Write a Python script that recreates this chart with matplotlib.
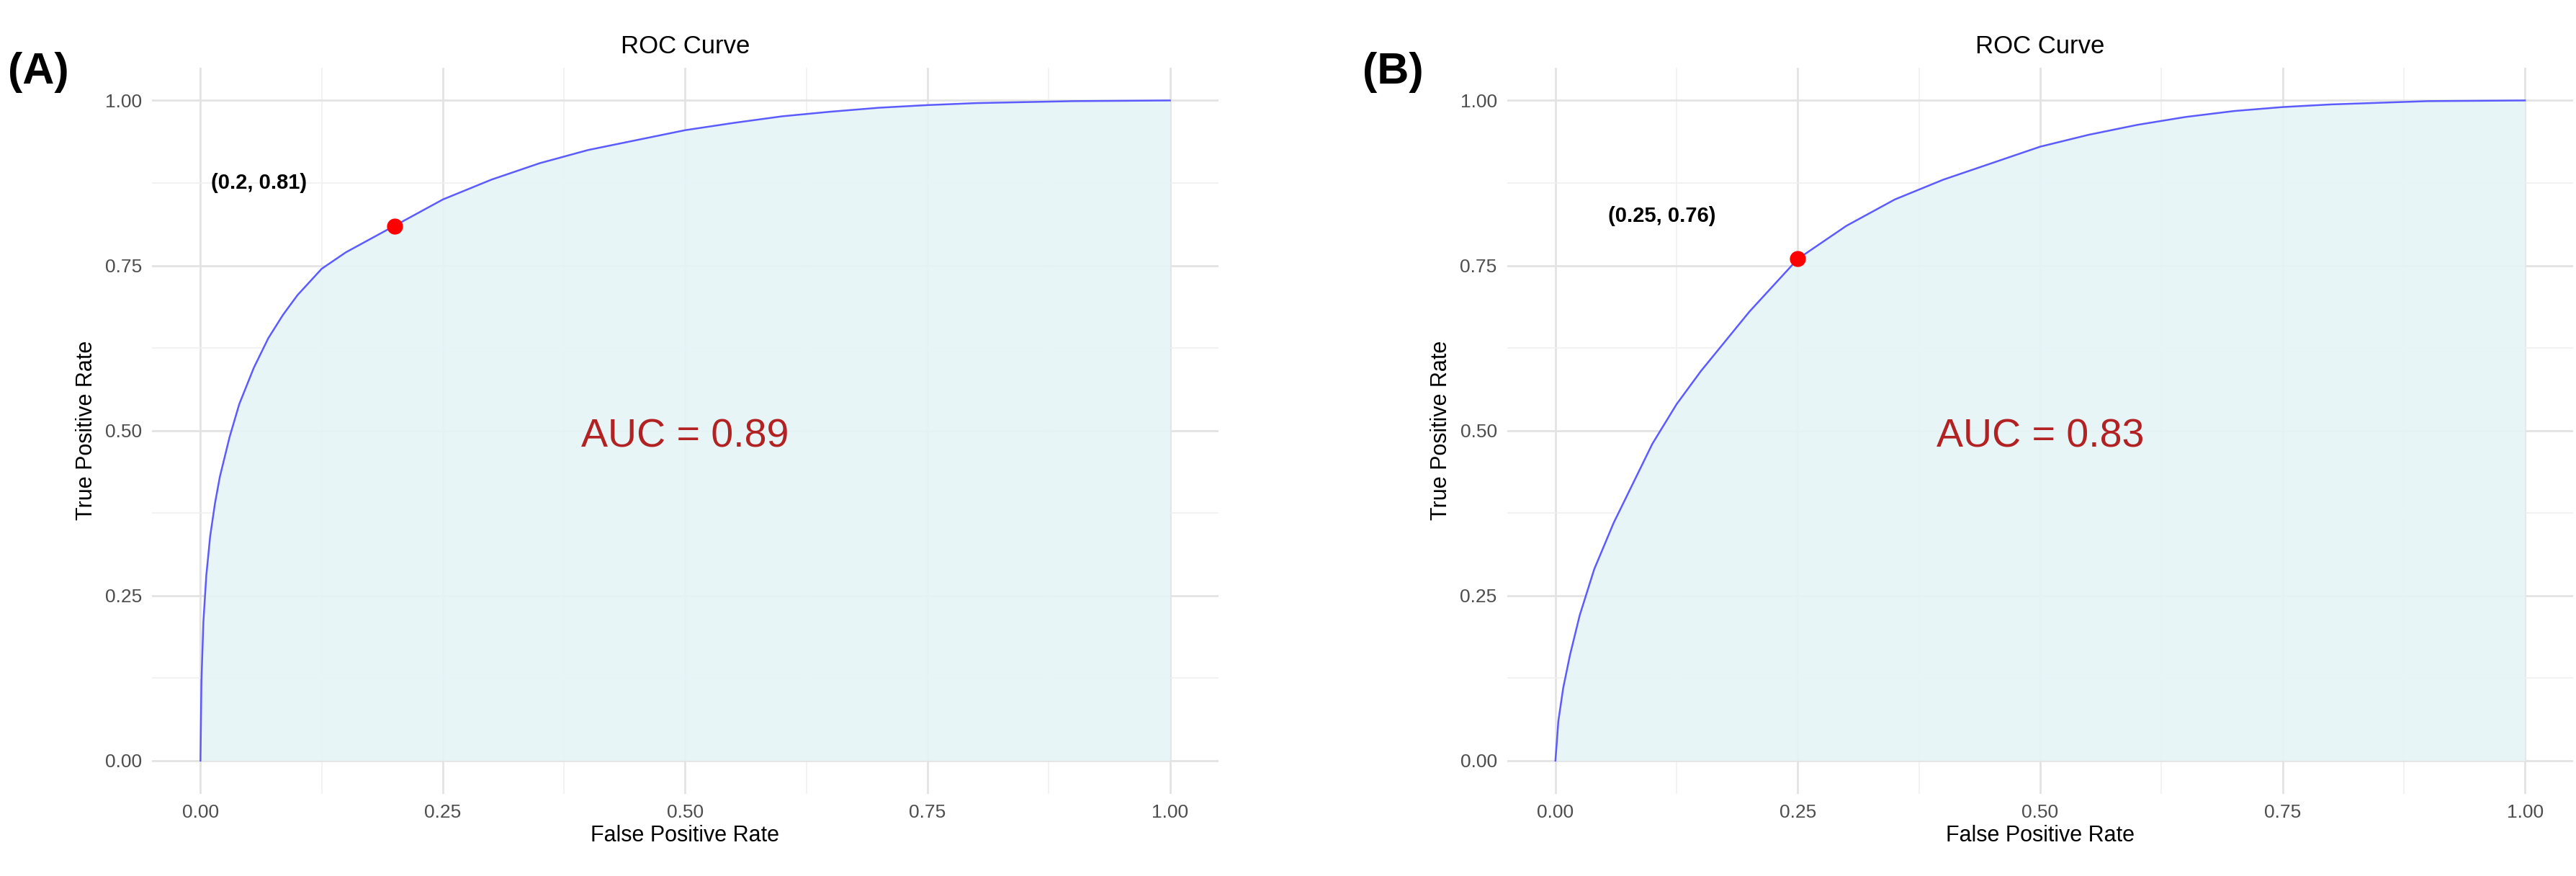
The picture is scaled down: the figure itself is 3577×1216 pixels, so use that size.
import matplotlib
matplotlib.use("Agg")
import matplotlib.pyplot as plt
plt.rcParams['font.family'] = ['Liberation Sans', 'DejaVu Sans']

fpr_a = [0, 0.001, 0.003, 0.006, 0.01, 0.015, 0.02, 0.03, 0.04, 0.055, 0.07, 0.085, 0.1, 0.125, 0.15, 0.175,
         0.2, 0.25, 0.3, 0.35, 0.4, 0.45, 0.5, 0.55, 0.6, 0.65, 0.7, 0.75, 0.8, 0.9, 1.0]
tpr_a = [0, 0.12, 0.21, 0.28, 0.34, 0.39, 0.43, 0.49, 0.54, 0.595, 0.64, 0.675, 0.705, 0.745, 0.77, 0.79,
         0.81, 0.85, 0.88, 0.905, 0.925, 0.94, 0.955, 0.966, 0.976, 0.983, 0.989, 0.993, 0.996, 0.999, 1.0]
fpr_b = [0, 0.003, 0.008, 0.015, 0.025, 0.04, 0.06, 0.08, 0.1, 0.125, 0.15, 0.175, 0.2, 0.225, 0.25, 0.3,
         0.35, 0.4, 0.45, 0.5, 0.55, 0.6, 0.65, 0.7, 0.75, 0.8, 0.9, 1.0]
tpr_b = [0, 0.06, 0.11, 0.16, 0.22, 0.29, 0.36, 0.42, 0.48, 0.54, 0.59, 0.635, 0.68, 0.72, 0.76, 0.81,
         0.85, 0.88, 0.905, 0.93, 0.948, 0.963, 0.975, 0.984, 0.99, 0.994, 0.999, 1.0]
points = [(0.2, 0.81), (0.25, 0.76)]
point_labels = ["(0.2, 0.81)", "(0.25, 0.76)"]
aucs = ["AUC = 0.89", "AUC = 0.83"]
panels = ["(A)", "(B)"]
ticks = [0.0, 0.25, 0.5, 0.75, 1.0]
tick_labels = ["0.00", "0.25", "0.50", "0.75", "1.00"]

fig = plt.figure(figsize=(35.77, 12.16), dpi=100)
lefts = [0.059, 0.585]
width = 0.414
for i, (fx, ty) in enumerate([(fpr_a, tpr_a), (fpr_b, tpr_b)]):
    ax = fig.add_axes([lefts[i], 0.094, width, 0.829])
    ax.fill_between(fx, ty, 0, color="#e6f4f7", alpha=0.9, lw=0)
    ax.plot(fx, ty, color="#5b5bff", lw=1.8)
    px, py = points[i]
    ax.plot(px, py, "o", color="red", ms=15, zorder=5)
    ax.text(px - 0.14, py + 0.05, point_labels[i], fontsize=21, fontweight="bold", ha="center", va="bottom")
    ax.text(0.5, 0.49, aucs[i], fontsize=40, color="#b22222", ha="center", va="center")
    ax.set_xlim(-0.05, 1.05); ax.set_ylim(-0.05, 1.05)
    ax.set_xticks(ticks); ax.set_xticklabels(tick_labels)
    ax.set_yticks(ticks); ax.set_yticklabels(tick_labels)
    ax.set_xticks([0.125, 0.375, 0.625, 0.875], minor=True)
    ax.set_yticks([0.125, 0.375, 0.625, 0.875], minor=True)
    ax.grid(which="major", color="#e3e3e3", lw=2)
    ax.grid(which="minor", color="#f0f0f0", lw=1.2)
    ax.set_axisbelow(True)
    for s in ax.spines.values():
        s.set_visible(False)
    ax.tick_params(which="both", length=0, labelsize=19, labelcolor="#4d4d4d", pad=10)
    ax.set_xlabel("False Positive Rate", fontsize=22, labelpad=4)
    ax.set_ylabel("True Positive Rate", fontsize=22, labelpad=8)
    ax.set_title("ROC Curve", fontsize=25, pad=14)
    fig.text(lefts[i] - 0.056, 0.905, panels[i], fontsize=44, fontweight="bold")

fig.savefig("out.png", dpi=100, facecolor="white")
